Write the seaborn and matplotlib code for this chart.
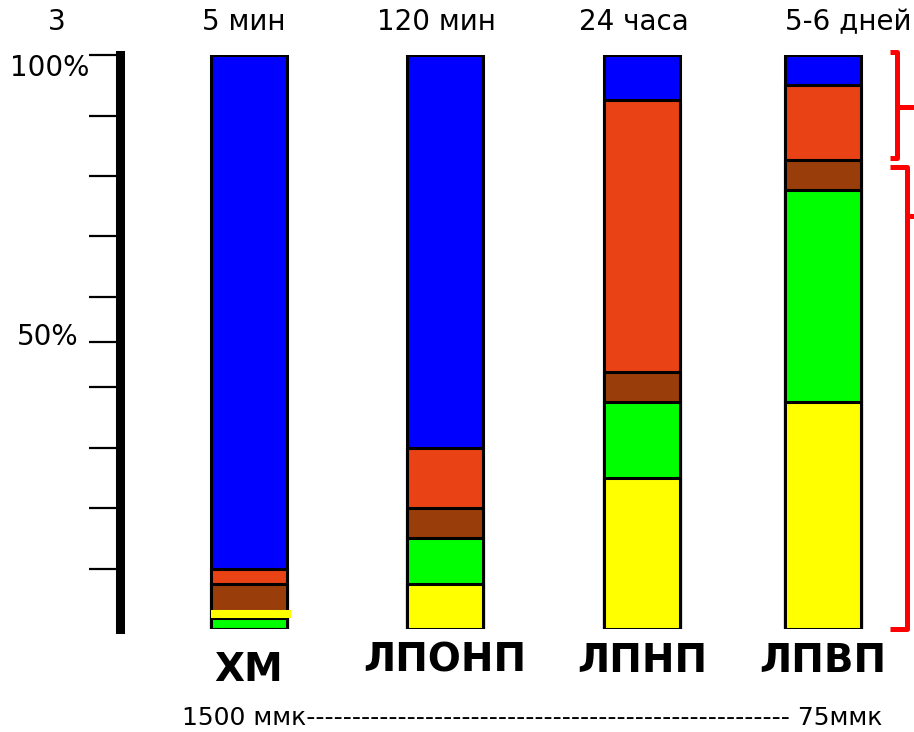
import numpy as np
import pandas as pd
import matplotlib
matplotlib.use('Agg')
import matplotlib.pyplot as plt
import seaborn as sns

# lipoprotein classes and how their composition changes with time (% of particle)
classes = ['ХМ', 'ЛПОНП', 'ЛПНП', 'ЛПВП']
times = ['5 мин', '120 мин', '24 часа', '5-6 дней']
yellow = [0.0, 7.8, 26.3, 39.5]
green = [1.9, 8.1, 13.2, 37.0]
brown = [5.9, 5.2, 5.3, 5.2]
red = [2.7, 10.4, 47.4, 13.1]
blue = [89.5, 68.5, 7.8, 5.2]
chm_stripe = 2.6  # the yellow stripe across ХМ
tick_vals = [10.5, 21.1, 31.5, 42.2, 50, 57.8, 68.5, 78.9, 89.4, 100]
tick_text = {100: '100%', 50: '50%'}
# (low, high, middle) of the red braces on the right
brackets = [(82.0, 100.5, 91.0), (0.0, 80.5, 72.0)]

# layout, x in pixels of the 914 px wide figure
W, H = 914, 732
xpos = [249, 445, 642, 823]
bar_w = 76
colors = ['#FFFF00', '#00FF00', '#993D0A', '#E84215', '#0000FF']

sns.set_style('white')
plt.rcParams['font.family'] = ['DejaVu Sans']
plt.rcParams['text.color'] = 'black'

fig = plt.figure(figsize=(W / 100, H / 100), dpi=100)
ax = fig.add_axes([0, (H - 629) / H, 1, 574 / H])

layers = [yellow, green, brown, red, blue]
cum = np.cumsum(layers, axis=0)
rel_w = bar_w / np.diff(xpos).min()
# draw the cumulative totals from the top layer down so they stack
for i in range(len(layers) - 1, -1, -1):
    df = pd.DataFrame({'x': xpos, 'y': cum[i]})
    sns.barplot(data=df, x='x', y='y', native_scale=True, orient='x',
                width=rel_w, color=colors[i], saturation=1,
                edgecolor='black', linewidth=2.2, errorbar=None, ax=ax)

ax.hlines(chm_stripe, xpos[0] - bar_w / 2, xpos[0] + bar_w / 2 + 4,
          color='#FFFF00', lw=5.8, zorder=5)

ax.set_xlim(0, W)
ax.set_ylim(0, 100)
ax.set_xlabel('')
ax.set_ylabel('')
ax.set_xticks([])
for s in ['top', 'right', 'bottom']:
    ax.spines[s].set_visible(False)
ax.spines['left'].set_position(('data', 120))
ax.spines['left'].set_linewidth(6.5)
ax.spines['left'].set_color('black')
ax.spines['left'].set_bounds(0, 100)
ax.set_yticks(tick_vals)
ax.tick_params(axis='y', direction='out', length=22, width=1.6,
               color='black', labelleft=False, left=True)

for lo, hi, mid in brackets:
    xv = 897 if hi > 90 else 907
    ax.plot([890, xv, xv, 890], [hi, hi, lo, lo], color='red', lw=3.6,
            clip_on=False, solid_capstyle='butt', solid_joinstyle='round')
    ax.plot([xv, W], [mid, mid], color='red', lw=3.6, clip_on=False)

def ftxt(x, y, s, **kw):
    fig.text(x / W, 1 - y / H, s, ha='center', va='center', **kw)

ftxt(57, 22, '3', fontsize=20)
for x, t, lx in zip(xpos, times, [244, 436, 634, 848]):
    ftxt(lx, 22, t, fontsize=20)
ftxt(50, 68, tick_text[100], fontsize=20)
ftxt(48, 337, tick_text[50], fontsize=20)
for x, c in zip(xpos, classes):
    ftxt(x, 670 if c == 'ХМ' else 661, c, fontsize=28, fontweight='bold')
ftxt(532, 718, '1500 ммк' + '-' * 53 + ' 75ммк', fontsize=18)

fig.savefig('out.png', dpi=100)
